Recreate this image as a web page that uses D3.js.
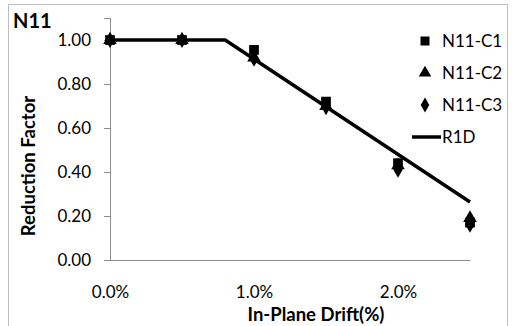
<!DOCTYPE html>
<html>
<head>
<meta charset="utf-8">
<script src="https://cdn.jsdelivr.net/npm/d3@7"></script>
<style>
  html, body { margin: 0; padding: 0; background: #fff; }
  svg { display: block; }
  text { font-family: Lato, "Open Sans", sans-serif; fill: #000; }
</style>
</head>
<body>
<svg id="chart" width="512" height="326"></svg>
<script>
// Drift levels (%) and measured reduction factors per specimen
const drift = [0, 0.5, 1.0, 1.5, 2.0, 2.5];
const c1 = [1.00, 1.00, 0.955, 0.72, 0.44, 0.17];
const c2 = [1.00, 1.00, 0.92, 0.70, 0.43, 0.19];
const c3 = [1.00, 1.00, 0.915, 0.695, 0.41, 0.16];
// R1D model curve (drift %, factor)
const r1dDrift = [0, 0.8, 2.5];
const r1dValue = [1.00, 1.00, 0.264];
const yTicks = [0, 0.2, 0.4, 0.6, 0.8, 1.0];
const xTicks = [0, 1, 2];
const seriesNames = ["N11-C1", "N11-C2", "N11-C3", "R1D"];

const svg = d3.select("#chart");
const x = d3.scaleLinear().domain([0, 2.5]).range([110, 470]);
const y = d3.scaleLinear().domain([0, 1.1]).range([260, 18]);

// outer chart frame
svg.append("rect").attr("x", 8.5).attr("y", 4.5).attr("width", 499).attr("height", 330)
  .attr("fill", "none").attr("stroke", "#bdbdbd").attr("stroke-width", 1);

// y axis
const yAxis = svg.append("g").attr("transform", "translate(110,0)")
  .call(d3.axisLeft(y).tickValues(yTicks).tickFormat(d3.format(".2f")).tickSize(6).tickPadding(13));
yAxis.select(".domain").attr("stroke", "#8c8c8c");
yAxis.selectAll(".tick line").attr("stroke", "#8c8c8c");
yAxis.selectAll("text").style("font-size", "17px").attr("fill", "#222");

// x axis (labels only, no tick marks)
const xAxis = svg.append("g").attr("transform", "translate(0,260)")
  .call(d3.axisBottom(x).tickValues(xTicks).tickFormat(d => d3.format(".1f")(d) + "%").tickSize(0).tickPadding(26));
xAxis.select(".domain").attr("stroke", "#8c8c8c");
xAxis.selectAll("text").style("font-size", "17px").attr("fill", "#222");

// titles
svg.append("text").attr("x", 13).attr("y", 28).style("font-size", "20px").style("font-weight", "bold").text("N11");
svg.append("text").attr("transform", "translate(35,166) rotate(-90)").attr("text-anchor", "middle")
  .style("font-size", "18.5px").style("font-weight", "bold").text("Reduction Factor");
svg.append("text").attr("x", 316).attr("y", 321).attr("text-anchor", "middle")
  .style("font-size", "18.5px").style("font-weight", "bold").text("In-Plane Drift(%)");

// R1D line
const line = d3.line().x((d, i) => x(r1dDrift[i])).y(d => y(d));
svg.append("path").datum(r1dValue).attr("d", line)
  .attr("fill", "none").attr("stroke", "#000").attr("stroke-width", 3.5).attr("stroke-linejoin", "miter");

// markers
const shapes = [d3.symbolSquare, d3.symbolTriangle, d3.symbolDiamond];
const sizes = [95, 80, 75];
[c1, c2, c3].forEach((vals, s) => {
  svg.append("g").selectAll("path").data(vals).join("path")
    .attr("transform", (d, i) => `translate(${x(drift[i])},${y(d)})`)
    .attr("d", d3.symbol().type(shapes[s]).size(sizes[s]))
    .attr("fill", "#000");
});

// legend
const lg = svg.append("g");
const legendY = [41, 73, 105, 137];
seriesNames.forEach((name, i) => {
  if (i < 3) {
    lg.append("path").attr("transform", `translate(425,${legendY[i]})`)
      .attr("d", d3.symbol().type(shapes[i]).size(sizes[i] * 0.85)).attr("fill", "#000");
  } else {
    lg.append("line").attr("x1", 412).attr("x2", 441).attr("y1", legendY[i]).attr("y2", legendY[i])
      .attr("stroke", "#000").attr("stroke-width", 3.5);
  }
  lg.append("text").attr("x", 442).attr("y", legendY[i]).attr("dy", "0.36em")
    .style("font-size", "17px").attr("fill", "#222").text(name);
});
</script>
</body>
</html>
